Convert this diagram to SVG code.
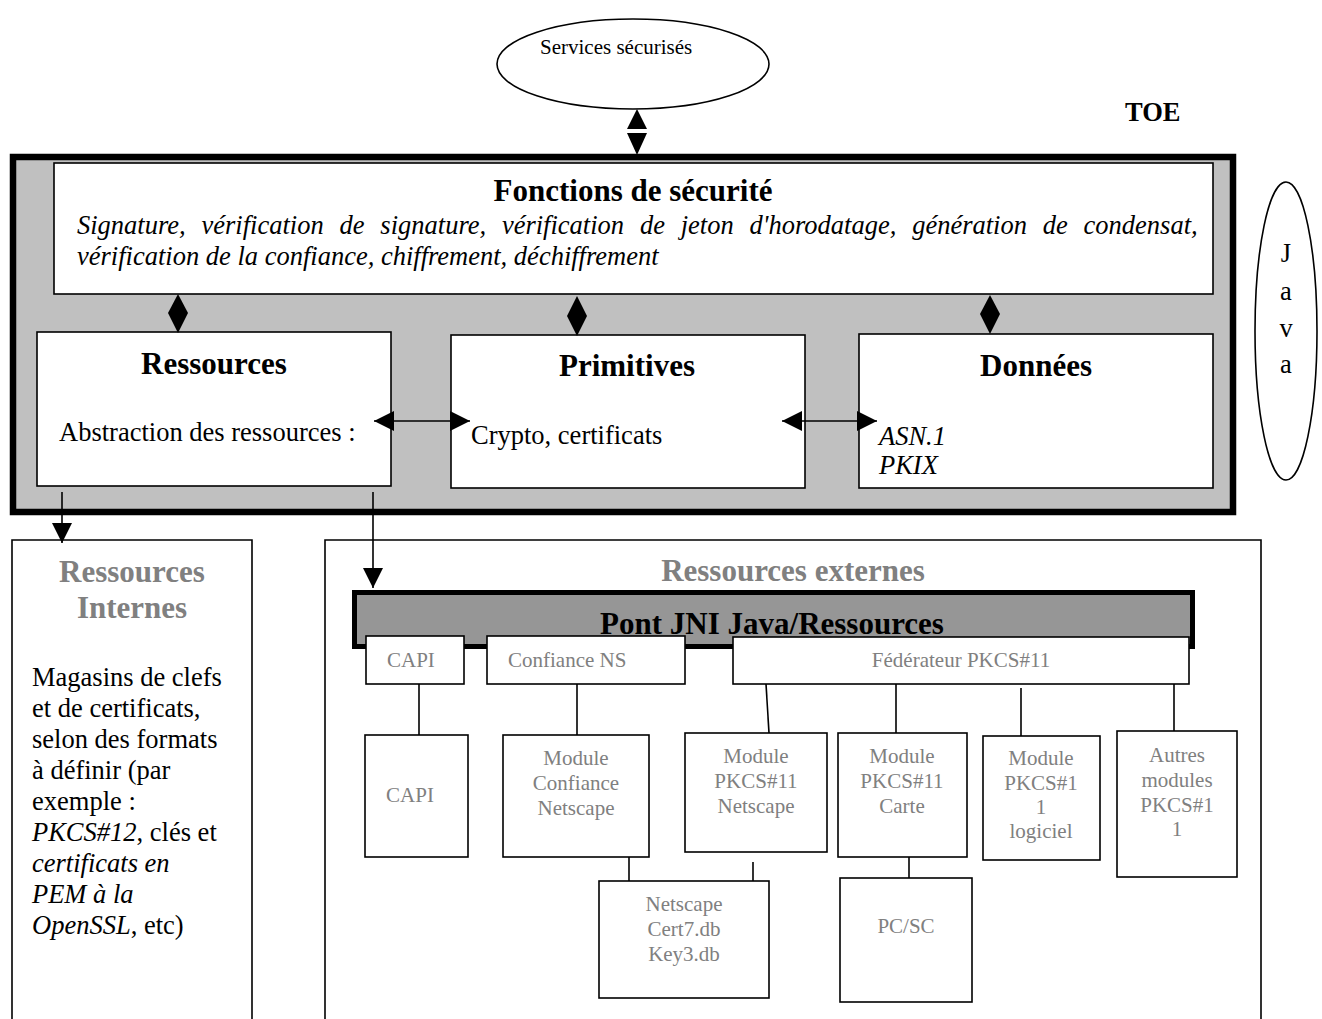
<svg xmlns="http://www.w3.org/2000/svg" width="1322" height="1019" viewBox="0 0 1322 1019">
<style>
.box{fill:#fff;stroke:#000;stroke-width:1.6}
.ln{stroke:#000;stroke-width:1.6;fill:none}
.hd{font-family:'Liberation Serif','Times New Roman',serif;font-weight:bold;font-size:31px;fill:#000}
.gh{font-family:'Liberation Serif','Times New Roman',serif;font-weight:bold;font-size:31px;fill:#808080}
.tx{font-family:'Liberation Serif','Times New Roman',serif;font-size:26.5px;fill:#000}
.it{font-style:italic}
.sm{font-family:'Liberation Serif','Times New Roman',serif;font-size:21px;fill:#808080}
.dia{fill:#000}
</style>
<defs>
<marker id="ah" viewBox="0 0 20 20" refX="20" refY="10" markerWidth="20" markerHeight="20" markerUnits="userSpaceOnUse" orient="auto-start-reverse">
<path d="M0,0 L20,10 L0,20 z" fill="#000"/>
</marker>
</defs>
<rect width="1322" height="1019" fill="#fff"/>

<g id="services">
<ellipse cx="633" cy="64" rx="136" ry="45" fill="#fff" stroke="#000" stroke-width="1.6"/>
<text class="sm" x="540" y="54" style="fill:#000">Services sécurisés</text>
</g>

<g id="toe-label"><text class="tx" x="1125" y="121" style="font-weight:bold">TOE</text></g>

<g id="toe">
<rect x="13" y="157" width="1220" height="355" fill="#c0c0c0" stroke="#000" stroke-width="6.5"/>
</g>

<g id="java">
<ellipse cx="1286" cy="331" rx="31" ry="149" fill="#fff" stroke="#000" stroke-width="1.6"/>
<text class="tx" text-anchor="middle" x="1286" y="262">J</text>
<text class="tx" text-anchor="middle" x="1286" y="300">a</text>
<text class="tx" text-anchor="middle" x="1286" y="337">v</text>
<text class="tx" text-anchor="middle" x="1286" y="373">a</text>
</g>

<g id="fonctions">
<rect class="box" x="54" y="163" width="1159" height="131"/>
<text class="hd" x="633" y="201" text-anchor="middle">Fonctions de sécurité</text>
<text class="tx it" x="77" y="234" word-spacing="9.2">Signature, vérification de signature, vérification de jeton d'horodatage, génération de condensat,</text>
<text class="tx it" x="77" y="265">vérification de la confiance, chiffrement, déchiffrement</text>
</g>

<g id="ressources">
<rect class="box" x="37" y="332" width="354" height="154"/>
<text class="hd" x="214" y="374" text-anchor="middle">Ressources</text>
<text class="tx" x="59" y="441">Abstraction des ressources :</text>
</g>

<g id="primitives">
<rect class="box" x="451" y="335" width="354" height="153"/>
<text class="hd" x="627" y="376" text-anchor="middle">Primitives</text>
<text class="tx" x="471" y="444">Crypto, certificats</text>
</g>

<g id="donnees">
<rect class="box" x="859" y="334" width="354" height="154"/>
<text class="hd" x="1036" y="376" text-anchor="middle">Données</text>
<text class="tx it" x="879" y="445">ASN.1</text>
<text class="tx it" x="879" y="474">PKIX</text>
</g>

<g id="ressources-internes">
<path class="ln" d="M12,1019 V540 H252 V1019"/>
<text class="gh" x="132" y="582" text-anchor="middle">Ressources</text>
<text class="gh" x="132" y="618" text-anchor="middle">Internes</text>
<text class="tx" x="32" y="686">Magasins de clefs</text>
<text class="tx" x="32" y="717">et de certificats,</text>
<text class="tx" x="32" y="748">selon des formats</text>
<text class="tx" x="32" y="779">à définir (par</text>
<text class="tx" x="32" y="810">exemple :</text>
<text class="tx" x="32" y="841"><tspan class="it">PKCS#12</tspan>, clés et</text>
<text class="tx it" x="32" y="872">certificats en</text>
<text class="tx it" x="32" y="903">PEM à la</text>
<text class="tx" x="32" y="934"><tspan class="it">OpenSSL</tspan>, etc)</text>
</g>

<g id="ressources-externes">
<path class="ln" d="M325,1019 V540 H1261 V1019"/>
<text class="gh" x="793" y="581" text-anchor="middle">Ressources externes</text>
</g>

<g id="pont-jni">
<rect x="354.5" y="592.5" width="838" height="54" fill="#969696" stroke="#000" stroke-width="5"/>
<text class="hd" x="772" y="634" text-anchor="middle">Pont JNI Java/Ressources</text>
</g>

<g id="capi-top">
<rect class="box" x="366" y="636" width="98" height="48"/>
<text class="sm" x="387" y="667">CAPI</text>
</g>
<g id="confiance-ns">
<rect class="box" x="487" y="636" width="198" height="48"/>
<text class="sm" x="508" y="667">Confiance NS</text>
</g>
<g id="federateur">
<rect class="box" x="733" y="637" width="456" height="47"/>
<text class="sm" x="961" y="667" text-anchor="middle">Fédérateur PKCS#11</text>
</g>

<g id="capi">
<rect class="box" x="365" y="735" width="103" height="122"/>
<text class="sm" x="410" y="802" text-anchor="middle">CAPI</text>
</g>
<g id="module-confiance">
<rect class="box" x="503" y="735" width="146" height="122"/>
<text class="sm" x="576" y="765" text-anchor="middle">Module</text>
<text class="sm" x="576" y="790" text-anchor="middle">Confiance</text>
<text class="sm" x="576" y="815" text-anchor="middle">Netscape</text>
</g>
<g id="module-pkcs-netscape">
<rect class="box" x="685" y="733" width="142" height="119"/>
<text class="sm" x="756" y="763" text-anchor="middle">Module</text>
<text class="sm" x="756" y="788" text-anchor="middle">PKCS#11</text>
<text class="sm" x="756" y="813" text-anchor="middle">Netscape</text>
</g>
<g id="module-pkcs-carte">
<rect class="box" x="838" y="733" width="129" height="124"/>
<text class="sm" x="902" y="763" text-anchor="middle">Module</text>
<text class="sm" x="902" y="788" text-anchor="middle">PKCS#11</text>
<text class="sm" x="902" y="813" text-anchor="middle">Carte</text>
</g>
<g id="module-pkcs-logiciel">
<rect class="box" x="983" y="736" width="117" height="124"/>
<text class="sm" x="1041" y="765" text-anchor="middle">Module</text>
<text class="sm" x="1041" y="790" text-anchor="middle">PKCS#1</text>
<text class="sm" x="1041" y="814" text-anchor="middle">1</text>
<text class="sm" x="1041" y="838" text-anchor="middle">logiciel</text>
</g>
<g id="autres-modules">
<rect class="box" x="1117" y="731" width="120" height="146"/>
<text class="sm" x="1177" y="762" text-anchor="middle">Autres</text>
<text class="sm" x="1177" y="787" text-anchor="middle">modules</text>
<text class="sm" x="1177" y="812" text-anchor="middle">PKCS#1</text>
<text class="sm" x="1177" y="836" text-anchor="middle">1</text>
</g>
<g id="netscape-db">
<rect class="box" x="599" y="881" width="170" height="117"/>
<text class="sm" x="684" y="911" text-anchor="middle">Netscape</text>
<text class="sm" x="684" y="936" text-anchor="middle">Cert7.db</text>
<text class="sm" x="684" y="961" text-anchor="middle">Key3.db</text>
</g>
<g id="pcsc">
<rect class="box" x="840" y="878" width="132" height="124"/>
<text class="sm" x="906" y="933" text-anchor="middle">PC/SC</text>
</g>

<g id="connectors">
<polygon class="dia" points="637,109 647,129 627,129"/>
<polygon class="dia" points="627,133 647,133 637,155"/>
<polygon class="dia" points="178,294 188,313 178,333 168,313"/>
<polygon class="dia" points="577,296 587,316 577,336 567,316"/>
<polygon class="dia" points="990,295 1000,314 990,334 980,314"/>
<line class="ln" x1="374" y1="421" x2="470" y2="421" marker-start="url(#ah)" marker-end="url(#ah)"/>
<line class="ln" x1="782" y1="421" x2="877" y2="421" marker-start="url(#ah)" marker-end="url(#ah)"/>
<line class="ln" x1="62" y1="492" x2="62" y2="543" marker-end="url(#ah)"/>
<line class="ln" x1="373" y1="492" x2="373" y2="588" marker-end="url(#ah)"/>
<line class="ln" x1="419" y1="684" x2="419" y2="735"/>
<line class="ln" x1="577" y1="684" x2="577" y2="735"/>
<line class="ln" x1="766" y1="684" x2="769" y2="733"/>
<line class="ln" x1="896" y1="684" x2="896" y2="733"/>
<line class="ln" x1="1021" y1="688" x2="1021" y2="736"/>
<line class="ln" x1="1174" y1="684" x2="1174" y2="731"/>
<line class="ln" x1="629" y1="857" x2="629" y2="881"/>
<line class="ln" x1="753" y1="862" x2="753" y2="881"/>
<line class="ln" x1="909" y1="857" x2="909" y2="878"/>
</g>
</svg>
